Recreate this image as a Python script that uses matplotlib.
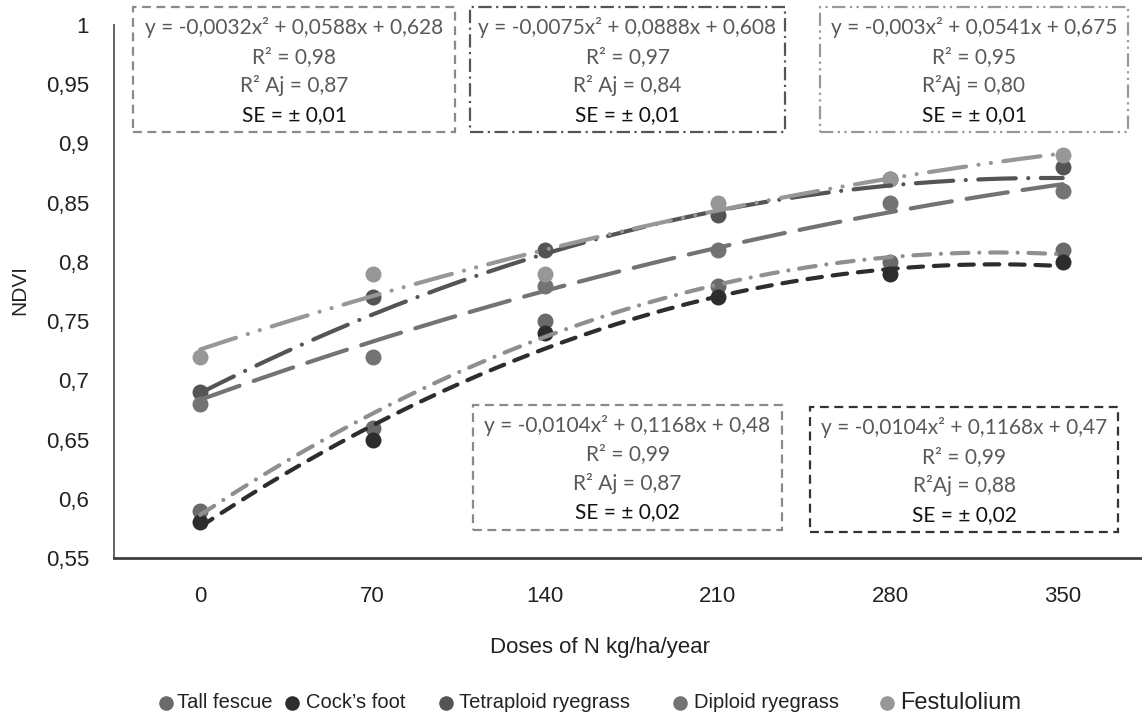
import numpy as np
import matplotlib.pyplot as plt
from matplotlib.patches import Rectangle
from matplotlib.lines import Line2D

# doses of N (kg/ha/year) and NDVI
doses = ['0', '70', '140', '210', '280', '350']
tall_fescue = [0.59, 0.66, 0.75, 0.78, 0.80, 0.81]
cocks_foot = [0.58, 0.65, 0.74, 0.77, 0.79, 0.80]
tetraploid = [0.69, 0.77, 0.81, 0.84, 0.87, 0.88]
diploid = [0.68, 0.72, 0.78, 0.81, 0.85, 0.86]
festulolium = [0.72, 0.79, 0.79, 0.85, 0.87, 0.89]

# quadratic trend coefficients as printed in the boxes (x = 1..6)
coef_tall = [-0.0104, 0.1168, 0.48]
coef_cock = [-0.0104, 0.1168, 0.47]
coef_tetra = [-0.0075, 0.0888, 0.608]
coef_dipl = [-0.0032, 0.0588, 0.628]
coef_festu = [-0.003, 0.0541, 0.675]

W, H = 1142, 716
fig = plt.figure(figsize=(W / 100, H / 100), dpi=100)
ax = fig.add_axes([114 / W, 1 - 558 / H, (1149 - 114) / W, (558 - 25) / H])

series = [
    ('Tall fescue', tall_fescue, coef_tall, '#6a6a6a', '#8f8f8f', (4, 2.6, 0.01, 2.6)),
    ("Cock\u2019s foot", cocks_foot, coef_cock, '#2d2d2d', '#2d2d2d', (3.5, 2.6)),
    ('Tetraploid ryegrass', tetraploid, coef_tetra, '#545454', '#545454', (9, 3, 0.01, 3)),
    ('Diploid ryegrass', diploid, coef_dipl, '#737373', '#737373', (10, 3.6)),
    ('Festulolium', festulolium, coef_festu, '#979797', '#979797', (9, 3, 0.01, 3, 0.01, 3)),
]

xpos = np.arange(len(doses))
xx = np.linspace(0, len(doses) - 1, 200)
for name, vals, coef, mcol, lcol, dash in series:
    ax.plot(xpos, vals, 'o', ms=11.5, color=mcol, mec='none', zorder=2)
for name, vals, coef, mcol, lcol, dash in series:
    ax.plot(xx, np.polyval(coef, xx + 1), color=lcol, lw=3, dashes=dash,
            dash_capstyle='round', zorder=3)

ax.set_xlim(-0.5, len(doses) - 0.5)
ax.set_ylim(0.55, 1.0)
ax.set_xticks(xpos)
ax.set_xticklabels(doses)
yt = np.round(np.arange(0.55, 1.001, 0.05), 2)
ax.set_yticks(yt)
ax.set_yticklabels([('%g' % v).replace('.', ',') for v in yt])
ax.tick_params(axis='both', length=0, labelsize=16, colors='#222222')
ax.tick_params(axis='x', pad=20)
ax.tick_params(axis='y', pad=18)
for lab in ax.get_xticklabels() + ax.get_yticklabels():
    lab.set_fontfamily('Liberation Sans')
ax.spines['top'].set_visible(False)
ax.spines['right'].set_visible(False)
ax.spines['left'].set_color('#555555')
ax.spines['left'].set_linewidth(1.3)
ax.spines['bottom'].set_color('#404040')
ax.spines['bottom'].set_linewidth(2)
ax.set_facecolor('none')

fig.text(20 / W, 1 - 290 / H, 'NDVI', rotation=90, ha='center', va='center',
         fontsize=15, family='Liberation Sans', color='#222222')
fig.text(600 / W, 1 - 648 / H, 'Doses of N kg/ha/year', ha='center', va='center',
         fontsize=16, family='Liberation Sans', color='#222222')

# legend entries laid out like the original (marker x, text x, font size)
leg_pos = [(166, 177, 14.5), (292, 306, 14.5), (446, 459, 14.5), (680, 694, 14.5), (887, 900, 17)]
for (name, vals, coef, mcol, lcol, dash), (mx, tx, fs) in zip(series, leg_pos):
    fig.add_artist(Line2D([mx / W], [1 - 703 / H], marker='o', ms=10.5, color=mcol,
                          mec='none', transform=fig.transFigure))
    fig.text(tx / W, 1 - 703 / H, name, ha='left', va='center', fontsize=fs,
             family='Liberation Sans', color='#222222')

boxes = [
    ((133, 7, 455, 132), '#8a8a8a', (4, 2.5),
     ['y = -0,0032x\u00b2 + 0,0588x + 0,628', 'R\u00b2 = 0,98', 'R\u00b2 Aj = 0,87', 'SE = \u00b1 0,01'], 28),
    ((470, 7, 785, 132), '#555555', (6, 2, 1, 2),
     ['y = -0,0075x\u00b2 + 0,0888x + 0,608', 'R\u00b2 = 0,97', 'R\u00b2 Aj = 0,84', 'SE = \u00b1 0,01'], 28),
    ((820, 7, 1128, 132), '#999999', (6, 2, 1, 2, 1, 2),
     ['y = -0,003x\u00b2 + 0,0541x + 0,675', 'R\u00b2 = 0,95', 'R\u00b2Aj = 0,80', 'SE = \u00b1 0,01'], 28),
    ((473, 405, 782, 530), '#8a8a8a', (4, 2.5),
     ['y = -0,0104x\u00b2 + 0,1168x + 0,48', 'R\u00b2 = 0,99', 'R\u00b2 Aj = 0,87', 'SE = \u00b1 0,02'], 425),
    ((810, 407, 1118, 532), '#333333', (4, 2.5),
     ['y = -0,0104x\u00b2 + 0,1168x + 0,47', 'R\u00b2 = 0,99', 'R\u00b2Aj = 0,88', 'SE = \u00b1 0,02'], 428),
]
for (x0, y0, x1, y1), ecol, dash, lines, ly in boxes:
    r = Rectangle((x0 / W, 1 - y1 / H), (x1 - x0) / W, (y1 - y0) / H, transform=fig.transFigure,
                  fill=False, edgecolor=ecol, lw=1.6, linestyle=(0, dash), zorder=5)
    fig.add_artist(r)
    cx = (x0 + x1) / 2
    for i, t in enumerate(lines):
        col = '#111111' if i == 3 else '#595959'
        fig.text(cx / W, 1 - (ly + i * 29) / H, t, ha='center', va='center',
                 fontsize=15, family='Lato', color=col)

fig.savefig('out.png', dpi=100)
